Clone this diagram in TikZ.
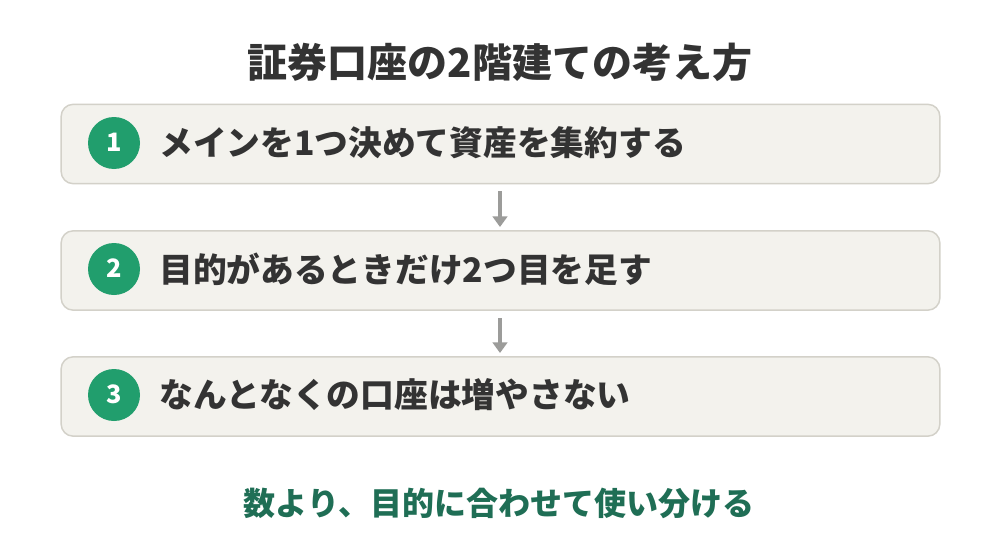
\documentclass[tikz,border=0pt]{standalone}
\usepackage{fontspec}
\setmainfont{Noto Sans CJK JP}
\usetikzlibrary{arrows.meta}
\definecolor{boxfill}{HTML}{F3F2ED}
\definecolor{boxline}{HTML}{D3D1C9}
\definecolor{numgreen}{HTML}{219E6D}
\definecolor{txt}{HTML}{333333}
\definecolor{foot}{HTML}{1F6E55}
\definecolor{arr}{HTML}{9C9C9A}
\begin{document}
\begin{tikzpicture}[x=0.75pt,y=-0.75pt,
  stepbox/.style={draw=boxline,fill=boxfill,line width=1.1pt,rounded corners=9pt,minimum width=659pt,minimum height=59.5pt,inner sep=0pt},
  numdot/.style={circle,fill=numgreen,minimum size=39pt,inner sep=0pt,text=white,font=\bfseries\fontsize{19}{19}\selectfont},
  steptext/.style={anchor=west,text=txt,font=\bfseries\fontsize{25.3}{25.3}\selectfont,inner sep=0pt},
  conn/.style={draw=arr,line width=2.4pt,-{Triangle[length=8pt,width=11pt]}}]
\useasboundingbox (0,0) rectangle (1000,546);
\fill[white] (0,0) rectangle (1000,546);
\node[text=txt,font=\bfseries\fontsize{30}{30}\selectfont] (title) at (500,62) {証券口座の2階建ての考え方};
\node[stepbox] (b1) at (500.5,144) {};
\node[stepbox] (b2) at (500.5,270.5) {};
\node[stepbox] (b3) at (500.5,396.5) {};
\node[numdot] (n1) at (114,143) {\raisebox{1.5pt}{1}};
\node[numdot] (n2) at (114,269) {\raisebox{1.5pt}{2}};
\node[numdot] (n3) at (114,395) {\raisebox{1.5pt}{3}};
\node[steptext] (t1) at (159,143) {メインを1つ決めて資産を集約する};
\node[steptext] (t2) at (159,269) {目的があるときだけ2つ目を足す};
\node[steptext] (t3) at (159,395) {なんとなくの口座は増やさない};
\coordinate (a1s) at (500,191);
\coordinate (a1e) at (500,227);
\coordinate (a2s) at (500,318);
\coordinate (a2e) at (500,353);
\draw[conn] (a1s) -- (a1e);
\draw[conn] (a2s) -- (a2e);
\node[text=foot,font=\bfseries\fontsize{24}{24}\selectfont] (foot) at (499,503) {数より、目的に合わせて使い分ける};
\end{tikzpicture}
\end{document}
